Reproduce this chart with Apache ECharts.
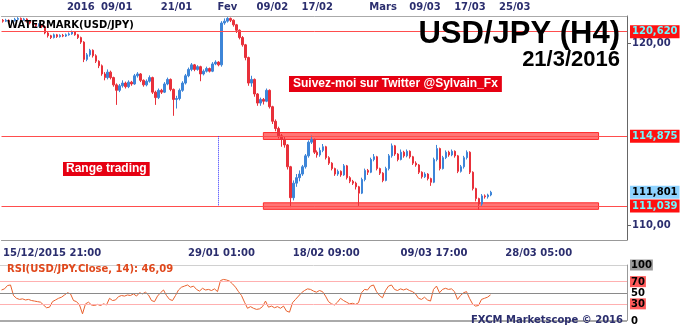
<!DOCTYPE html>
<html><head><meta charset="utf-8">
<script src="https://cdn.jsdelivr.net/npm/echarts@6/dist/echarts.min.js"></script>
<style>html,body{margin:0;padding:0;background:#fff}#c{width:680px;height:326px}</style>
</head><body><div id="c"></div>
<script>
// ---- data (USD/JPY, one candle per ~3 px of the original H4 chart) ----
const closes = [121.20,121.25,121.15,121.22,121.30,121.35,121.28,121.32,121.20,121.10,
121.05,120.95,121.00,120.90,120.55,120.40,120.30,120.45,120.35,120.42,
120.38,120.45,120.50,120.62,120.45,120.30,120.05,119.10,119.35,119.60,
119.30,119.00,118.75,118.30,118.10,118.40,118.10,117.70,117.40,117.65,
117.80,117.60,117.85,117.75,118.20,118.30,117.95,117.70,117.90,118.10,
117.30,117.00,117.40,117.30,117.75,118.00,117.45,116.90,116.95,117.40,
117.80,118.20,118.55,118.80,118.55,118.70,118.30,118.45,118.60,118.45,
118.85,118.95,118.80,121.10,121.20,121.35,121.25,121.00,120.70,120.30,
119.90,119.20,117.80,118.00,117.20,116.70,116.90,116.80,117.40,116.50,
115.70,115.30,114.90,114.70,114.40,113.20,111.50,112.30,112.60,112.80,
113.20,113.80,114.55,114.70,114.00,113.85,114.10,114.30,113.70,113.40,
113.10,112.80,112.95,112.75,113.25,112.60,112.40,112.30,112.10,111.75,
112.50,113.00,112.90,113.60,113.75,113.10,112.85,112.45,113.10,113.80,
114.35,113.90,113.60,114.00,113.80,114.05,113.75,113.40,113.30,112.90,
112.65,112.80,112.55,112.35,113.60,114.20,113.10,113.70,114.00,113.85,
114.05,113.80,112.95,113.20,113.70,114.00,112.90,112.00,111.45,111.15,
111.60,111.55,111.65,111.80];
const opens = [121.25,121.20,121.25,121.15,121.22,121.30,121.35,121.28,121.32,121.20,
121.10,121.05,120.95,121.00,120.90,120.55,120.40,120.30,120.45,120.35,
120.42,120.38,120.45,120.50,120.62,120.45,120.30,120.05,119.10,119.35,
119.60,119.30,119.00,118.75,118.30,118.10,118.40,118.10,117.70,117.40,
117.65,117.80,117.60,117.85,117.75,118.20,118.30,117.95,117.70,117.90,
118.10,117.30,117.00,117.40,117.30,117.75,118.00,117.45,116.90,116.95,
117.40,117.80,118.20,118.55,118.80,118.55,118.70,118.30,118.45,118.60,
118.45,118.85,118.95,118.80,121.10,121.20,121.35,121.25,121.00,120.70,
120.30,119.90,119.20,117.80,118.00,117.20,116.70,116.90,116.80,117.40,
116.50,115.70,115.30,114.90,114.70,114.40,113.20,111.50,112.30,112.60,
112.80,113.20,113.80,114.55,114.70,114.00,113.85,114.10,114.30,113.70,
113.40,113.10,112.80,112.95,112.75,113.25,112.60,112.40,112.30,112.10,
111.75,112.50,113.00,112.90,113.60,113.75,113.10,112.85,112.45,113.10,
113.80,114.35,113.90,113.60,114.00,113.80,114.05,113.75,113.40,113.30,
112.90,112.65,112.80,112.55,112.35,113.60,114.20,113.10,113.70,114.00,
113.85,114.05,113.80,112.95,113.20,113.70,114.00,112.90,112.00,111.45,
111.15,111.60,111.55,111.65];
const highs = [121.32,121.33,121.30,121.28,121.38,121.42,121.40,121.38,121.36,121.25,
121.18,121.10,121.08,121.05,120.95,120.62,120.45,120.52,120.50,120.48,
120.50,120.52,120.58,120.68,120.66,120.50,120.35,120.10,119.45,119.68,
119.65,119.38,119.05,118.82,118.40,118.55,118.48,118.15,117.78,117.75,
117.95,117.88,117.95,117.92,118.30,118.40,118.35,118.00,118.00,118.22,
118.15,117.38,117.50,117.48,117.85,118.10,118.05,117.50,117.10,117.50,
117.90,118.30,118.65,118.90,118.85,118.78,118.75,118.55,118.70,118.65,
118.95,119.05,119.00,121.20,121.35,121.42,121.40,121.30,121.05,120.75,
120.38,119.95,119.25,118.20,118.05,117.25,117.00,116.98,117.50,117.45,
116.55,115.80,115.40,115.00,114.85,114.45,113.25,112.45,112.80,113.00,
113.30,113.90,114.65,114.92,114.75,114.10,114.25,114.45,114.35,113.78,
113.45,113.15,113.05,113.00,113.35,113.30,112.68,112.48,112.38,112.15,
112.60,113.10,113.08,113.70,113.90,113.80,113.15,112.90,113.20,113.90,
114.48,114.40,113.95,114.15,114.08,114.15,114.10,113.80,113.50,113.35,
112.95,112.90,112.85,112.60,113.70,114.40,114.25,113.80,114.10,114.08,
114.15,114.10,113.85,113.30,113.80,114.10,114.05,112.95,112.05,111.50,
111.70,111.68,111.72,111.88];
const lows = [121.12,121.15,121.08,121.10,121.18,121.25,121.20,121.22,121.12,121.02,
120.98,120.88,120.90,120.82,120.48,120.30,120.22,120.25,120.28,120.30,
120.32,120.33,120.40,120.45,120.40,120.22,119.95,118.95,119.00,119.25,
119.20,118.90,118.62,118.20,117.95,118.00,118.00,117.60,116.60,117.30,
117.55,117.50,117.52,117.65,117.70,118.10,117.85,117.60,117.62,117.82,
117.20,116.60,116.92,117.20,117.25,117.68,117.35,116.00,116.40,116.85,
117.32,117.72,118.12,118.45,118.45,118.48,117.90,118.22,118.38,118.38,
118.40,118.78,118.72,118.70,121.00,121.12,121.15,120.90,120.55,120.20,
119.80,119.05,117.65,117.60,117.05,116.55,116.55,116.62,116.75,116.40,
115.55,115.15,114.75,114.30,114.25,113.05,110.98,111.35,112.10,112.40,
112.70,113.10,113.70,114.45,113.90,113.70,113.75,114.00,113.60,113.30,
113.00,112.70,112.70,112.65,112.70,112.50,112.30,112.20,111.95,111.05,
111.70,112.40,112.75,112.85,113.50,113.00,112.75,112.35,112.40,113.00,
113.70,113.80,113.50,113.55,113.70,113.72,113.65,113.30,113.20,112.80,
112.55,112.58,112.45,112.15,112.30,113.50,113.00,113.05,113.62,113.75,
113.78,113.70,112.85,112.88,113.10,113.60,112.80,111.90,111.30,110.85,
111.05,111.45,111.45,111.58];
const rsi = [55,57,63,64,45,40,38,39,37,38,
36,35,34,33,28,23,24,34,37,40,
42,46,50,48,36,34,28,12,30,33,
28,27,29,27,30,28,40,36,37,43,
45,44,46,45,48,44,50,48,51,46,
36,34,44,50,55,45,38,36,45,55,
60,62,64,60,62,56,53,58,55,56,
54,57,52,72,74,73,71,66,60,52,
45,33,22,25,22,20,21,25,35,24,
26,23,25,22,26,17,15,32,38,44,
50,54,57,56,53,51,54,52,44,34,
30,28,33,40,36,33,30,31,29,32,
50,56,55,62,64,52,45,41,54,62,
64,56,54,57,55,57,54,52,48,40,
38,42,37,35,56,62,50,56,58,56,
57,52,38,45,50,52,40,30,26,27,
38,40,42,46.09];
const slotCount = 209;                 // time slots on the axis (incl. empty future)
const topTickIdx    = [26, 38, 58, 75, 90, 105, 127, 141, 156, 171];
const topTickLabels = ['2016','09/01','21/01','Fev','09/02','17/02','Mars','09/03','17/03','25/03'];
const bottomTickIdx    = [0, 73, 108, 144, 179];
const bottomTickLabels = ['15/12/2015 21:00','29/01 01:00','18/02 09:00','09/03 17:00','28/03 05:00'];
const levelPrices = [120.620, 114.875, 111.039];
const rangeBands = [[114.70, 115.08], [110.86, 111.22]];
const rangeStartIdx = 87, rangeEndIdx = 199, markerIdx = 72;
const lastPrice = 111.801;
const priceTicks = [110, 120];
const rsiTicks = [0, 30, 50, 70, 100];
const rsiLast = 46.09;

// ---- chart ----
const navy = '#2b2e6e';
const FF = 'DejaVu Sans';
const cats = Array.from({length: slotCount}, (_, i) => String(i));
const candles = closes.map((c, i) => [opens[i], c, lows[i], highs[i]]);
const topMap = new Map(topTickIdx.map((k, j) => [k, topTickLabels[j]]));
const botMap = new Map(bottomTickIdx.map((k, j) => [k, bottomTickLabels[j]]));
const fmt = (v, d) => v.toFixed(d).replace('.', ',');
const lvlLabel = (txt, bg, col) => ({show: true, position: 'end', distance: 3, formatter: txt,
  backgroundColor: bg, color: col, fontFamily: FF, fontWeight: 'bold', fontSize: 10, padding: [2, 2, 1, 2]});

const chart = echarts.init(document.getElementById('c'), null, {renderer: 'canvas'});
chart.setOption({
  animation: false,
  grid: [{left: 0, top: 16, width: 627, height: 224}, {left: 0, top: 265, width: 627, height: 56}],
  xAxis: [
    {type: 'category', data: cats, gridIndex: 0, position: 'bottom',
     axisLine: {lineStyle: {color: '#999'}},
     axisTick: {inside: true, length: 4, interval: 12, alignWithLabel: true, lineStyle: {color: '#999'}},
     axisLabel: {interval: (i) => botMap.has(i), formatter: (v, i) => botMap.get(i) || '', color: navy,
       fontFamily: FF, fontWeight: 'bold', fontSize: 10, margin: 8, alignMinLabel: 'left'},
     splitLine: {show: false}},
    {type: 'category', data: cats, gridIndex: 0, position: 'top',
     axisLine: {lineStyle: {color: '#aaa'}},
     axisTick: {interval: (i) => topMap.has(i), alignWithLabel: true, length: 4, lineStyle: {color: '#f0a020', width: 2}},
     axisLabel: {interval: (i) => topMap.has(i), formatter: (v, i) => topMap.get(i) || '', color: navy,
       fontFamily: FF, fontWeight: 'bold', fontSize: 10, margin: 4},
     splitLine: {show: false}},
    {type: 'category', data: cats, gridIndex: 0, position: 'top',
     axisLine: {show: false}, axisTick: {interval: 1, alignWithLabel: true, length: 3, lineStyle: {color: '#bbb'}},
     axisLabel: {show: false}, splitLine: {show: false}},
    {type: 'category', data: cats, gridIndex: 1, show: false}
  ],
  yAxis: [
    {type: 'value', gridIndex: 0, position: 'right', min: 109.176, max: 121.484, splitLine: {show: false},
     axisLine: {show: true, lineStyle: {color: '#666'}},
     axisTick: {show: true, customValues: priceTicks, length: 4, lineStyle: {color: '#666'}},
     axisLabel: {customValues: priceTicks, formatter: (v) => fmt(v, 2), color: navy, fontFamily: FF,
       fontWeight: 'bold', fontSize: 10, margin: 5}},
    {type: 'value', gridIndex: 1, position: 'right', min: 0, max: 100, splitLine: {show: false},
     axisLine: {show: true, lineStyle: {color: '#999'}}, axisTick: {show: false},
     axisLabel: {customValues: rsiTicks, margin: 3,
       formatter: (v) => v === 100 ? '{g|100}' : (v === 70 || v === 30) ? '{r|' + v + '}' : '{n|' + v + '}',
       rich: {
         g: {backgroundColor: '#9a9a9a', color: '#000', fontFamily: FF, fontWeight: 'bold', fontSize: 10, padding: [1, 1, 0, 1]},
         r: {backgroundColor: '#ff5a5a', color: '#000', fontFamily: FF, fontWeight: 'bold', fontSize: 10, padding: [1, 1, 0, 1]},
         n: {color: '#000', fontFamily: FF, fontWeight: 'bold', fontSize: 10, padding: [1, 1, 0, 1]}
       }}}
  ],
  series: [
    {type: 'candlestick', xAxisIndex: 0, yAxisIndex: 0, data: candles, barWidth: 2,
     itemStyle: {color: '#3d85d8', color0: '#e8303a', borderColor: '#3d85d8', borderColor0: '#e8303a', borderWidth: 1},
     markArea: {silent: true, itemStyle: {color: '#ff7575', borderColor: '#ff2a2a', borderWidth: 1},
       data: rangeBands.map(b => [{coord: [rangeStartIdx, b[1]]}, {coord: [rangeEndIdx, b[0]]}])},
     markLine: {silent: true, symbol: 'none', animation: false,
       data: [
         ...levelPrices.map(p => ({yAxis: p, lineStyle: {color: '#ff4d4d', width: 1, type: 'solid'},
            label: lvlLabel(fmt(p, 3), '#ff1010', '#6ff8ff')})),
         {yAxis: lastPrice, lineStyle: {color: 'rgba(0,0,0,0)', width: 1}, label: lvlLabel(fmt(lastPrice, 3), '#8fd3ff', '#000')},
         [{coord: [markerIdx, levelPrices[1]], lineStyle: {color: '#3333ff', width: 1, type: 'dotted'}, label: {show: false}},
          {coord: [markerIdx, levelPrices[2]]}]
       ]}},
    {type: 'line', xAxisIndex: 3, yAxisIndex: 1, data: rsi, symbol: 'none', lineStyle: {color: '#e8602c', width: 1},
     markLine: {silent: true, symbol: 'none', animation: false, label: {show: false},
       data: [
         {yAxis: 100, lineStyle: {color: '#d0d0d0', width: 1, type: 'solid'}},
         {yAxis: 70, lineStyle: {color: '#ffb0b0', width: 1, type: 'solid'}},
         {yAxis: 50, lineStyle: {color: '#8a8a8a', width: 1, type: 'solid'}},
         {yAxis: 30, lineStyle: {color: '#ffb0b0', width: 1, type: 'solid'}},
         {yAxis: 0, lineStyle: {color: '#aaaaaa', width: 2, type: 'solid'}}
       ]}}
  ],
  graphic: [
    {type: 'text', x: 7, y: 25, z: 100, style: {text: 'WATERMARK(USD/JPY)', font: 'bold 10px "DejaVu Sans"', fill: '#000', verticalAlign: 'middle'}},
    {type: 'text', x: 620, y: 34, z: 100, style: {text: 'USD/JPY (H4)', font: 'bold 31px "Liberation Sans"', fill: '#000', align: 'right', verticalAlign: 'middle'}},
    {type: 'text', x: 620, y: 60, z: 100, style: {text: '21/3/2016', font: 'bold 22px "Liberation Sans"', fill: '#000', align: 'right', verticalAlign: 'middle'}},
    {type: 'text', x: 289, y: 84, z: 100, style: {text: 'Suivez-moi sur Twitter @Sylvain_Fx', font: 'bold 12px "Liberation Sans"', fill: '#fff',
      backgroundColor: '#e60012', padding: [2, 4, 2, 4], verticalAlign: 'middle'}},
    {type: 'text', x: 63, y: 169, z: 100, style: {text: 'Range trading', font: 'bold 12px "Liberation Sans"', fill: '#fff',
      backgroundColor: '#e60012', padding: [1, 3, 1, 3], verticalAlign: 'middle'}},
    {type: 'text', x: 7, y: 269, z: 100, style: {text: 'RSI(USD/JPY.Close, 14): ' + fmt(rsiLast, 2), font: 'bold 10px "DejaVu Sans"', fill: '#e0481c', verticalAlign: 'middle'}},
    {type: 'text', x: 623, y: 320, z: 100, style: {text: 'FXCM Marketscope © 2016', font: 'bold 10px "DejaVu Sans"', fill: navy, align: 'right', verticalAlign: 'middle'}}
  ]
});
</script></body></html>
